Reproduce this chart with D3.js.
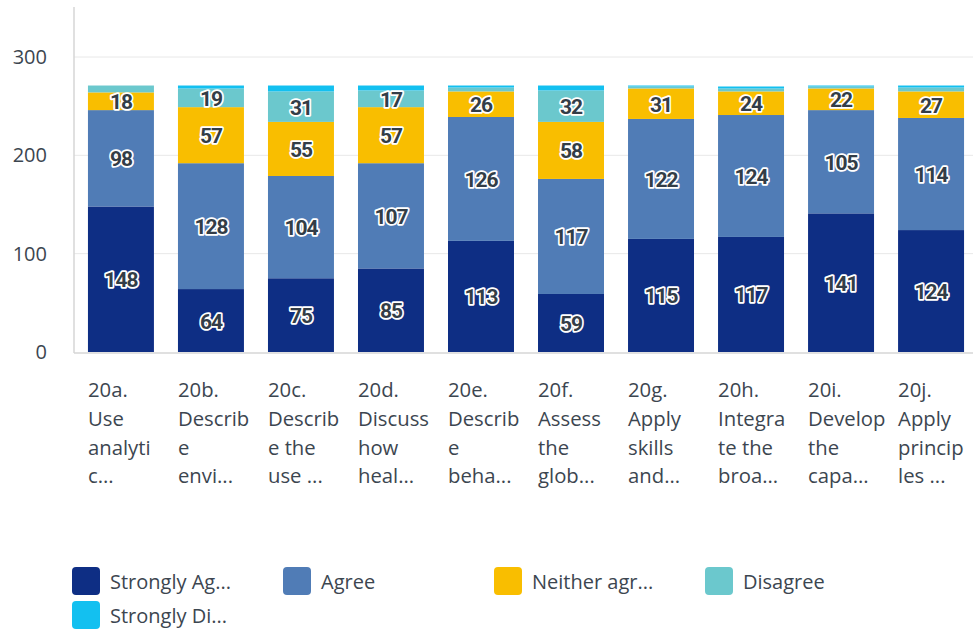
<!DOCTYPE html>
<html>
<head>
<meta charset="utf-8">
<script src="https://cdn.jsdelivr.net/npm/d3@7"></script>
<style>
  body { margin: 0; background: #fff; }
  svg { display: block; }
</style>
</head>
<body>
<div id="chart"></div>
<script>
var svgWidth = 973;
var svgHeight = 632;

// data
var questions = ["20a.", "20b.", "20c.", "20d.", "20e.", "20f.", "20g.", "20h.", "20i.", "20j."];
var labelLines = [
  ["20a.", "Use", "analyti", "c..."],
  ["20b.", "Describ", "e", "envi..."],
  ["20c.", "Describ", "e the", "use ..."],
  ["20d.", "Discuss", "how", "heal..."],
  ["20e.", "Describ", "e", "beha..."],
  ["20f.", "Assess", "the", "glob..."],
  ["20g.", "Apply", "skills", "and..."],
  ["20h.", "Integra", "te the", "broa..."],
  ["20i.", "Develop", "the", "capa..."],
  ["20j.", "Apply", "princip", "les ..."]
];
var seriesNames = ["Strongly Ag...", "Agree", "Neither agr...", "Disagree", "Strongly Di..."];
var stronglyAgree = [148, 64, 75, 85, 113, 59, 115, 117, 141, 124];
var agree = [98, 128, 104, 107, 126, 117, 122, 124, 105, 114];
var neither = [18, 57, 55, 57, 26, 58, 31, 24, 22, 27];
var disagree = [7, 19, 31, 17, 4, 32, 2, 3, 2, 4];
var stronglyDisagree = [0, 3, 6, 5, 2, 5, 1, 2, 1, 2];
var yTicks = [0, 100, 200, 300];

var colors = ["#0e2e84", "#507cb6", "#f9be00", "#6bc8cd", "#13c0f0"];

var svg = d3.select("#chart")
  .append("svg")
  .attr("width", svgWidth)
  .attr("height", svgHeight);

var table = questions.map(function(q, i) {
  return {
    q: q,
    s0: stronglyAgree[i],
    s1: agree[i],
    s2: neither[i],
    s3: disagree[i],
    s4: stronglyDisagree[i]
  };
});
var keys = ["s0", "s1", "s2", "s3", "s4"];
var stacked = d3.stack().keys(keys)(table);

var x = d3.scaleBand()
  .domain(questions)
  .range([74, 978])
  .paddingInner(0.267)
  .paddingOuter(0.155);

var y = d3.scaleLinear()
  .domain([0, 300])
  .range([352, 57]);

// gridlines
svg.append("g")
  .selectAll("line")
  .data(yTicks.slice(1))
  .enter()
  .append("line")
  .attr("x1", 74)
  .attr("x2", 973)
  .attr("y1", d => y(d))
  .attr("y2", d => y(d))
  .attr("stroke", "#e8e8e8")
  .attr("stroke-width", 1);

// y axis
var leftAxis = d3.axisLeft(y).tickValues(yTicks).tickSize(0).tickPadding(27);
var yAxis = svg.append("g")
  .attr("transform", "translate(74,0)")
  .call(leftAxis);
yAxis.select(".domain").remove();
yAxis.selectAll("text")
  .attr("font-family", "Open Sans")
  .attr("font-size", 20)
  .attr("fill", "#3c4650");

svg.append("line")
  .attr("x1", 74).attr("x2", 74)
  .attr("y1", 7).attr("y2", 353)
  .attr("stroke", "#d6d6d6").attr("stroke-width", 1.5);
svg.append("line")
  .attr("x1", 74).attr("x2", 973)
  .attr("y1", 353).attr("y2", 353)
  .attr("stroke", "#d6d6d6").attr("stroke-width", 1.5);

// bars
var layers = svg.append("g")
  .selectAll("g")
  .data(stacked)
  .enter()
  .append("g")
  .attr("fill", (d, i) => colors[i]);

layers.selectAll("rect")
  .data(d => d)
  .enter()
  .append("rect")
  .attr("x", d => x(d.data.q))
  .attr("y", d => y(d[1]))
  .attr("width", x.bandwidth())
  .attr("height", d => y(d[0]) - y(d[1]));

// value labels
var labelData = [];
stacked.forEach(function(layer) {
  layer.forEach(function(d) {
    var v = d[1] - d[0];
    if (v >= 15) labelData.push({ q: d.data.q, v: v, mid: (d[0] + d[1]) / 2 });
  });
});

svg.append("g")
  .selectAll("text")
  .data(labelData)
  .enter()
  .append("text")
  .attr("x", d => x(d.q) + x.bandwidth() / 2)
  .attr("y", d => y(d.mid))
  .attr("dy", "0.38em")
  .attr("text-anchor", "middle")
  .attr("font-family", "Roboto")
  .attr("font-weight", 700)
  .attr("font-size", 21)
  .attr("letter-spacing", -1)
  .attr("fill", "#333d47")
  .attr("stroke", "#ffffff")
  .attr("stroke-width", 3.5)
  .attr("stroke-linejoin", "round")
  .attr("paint-order", "stroke")
  .text(d => d.v);

// x labels
var xLabels = svg.append("g")
  .selectAll("text")
  .data(labelLines)
  .enter()
  .append("text")
  .attr("x", (d, i) => x(questions[i]))
  .attr("y", 397)
  .attr("font-family", "Open Sans")
  .attr("font-size", 20.3)
  .attr("fill", "#3c4650");

xLabels.each(function(lines, i) {
  d3.select(this).selectAll("tspan")
    .data(lines)
    .enter()
    .append("tspan")
    .attr("x", x(questions[i]))
    .attr("dy", (d, j) => j === 0 ? 0 : 28.8)
    .text(d => d);
});

// legend
var legendPos = [[72, 567], [283, 567], [494, 567], [705, 567], [72, 601]];
var legend = svg.append("g")
  .selectAll("g")
  .data(seriesNames)
  .enter()
  .append("g")
  .attr("transform", (d, i) => `translate(${legendPos[i][0]}, ${legendPos[i][1]})`);

legend.append("rect")
  .attr("width", 28)
  .attr("height", 28)
  .attr("rx", 4)
  .attr("fill", (d, i) => colors[i]);

legend.append("text")
  .attr("x", 38)
  .attr("y", 15)
  .attr("dy", "0.36em")
  .attr("font-family", "Open Sans")
  .attr("font-size", 20)
  .attr("fill", "#3c4650")
  .text(d => d);
</script>
</body>
</html>
